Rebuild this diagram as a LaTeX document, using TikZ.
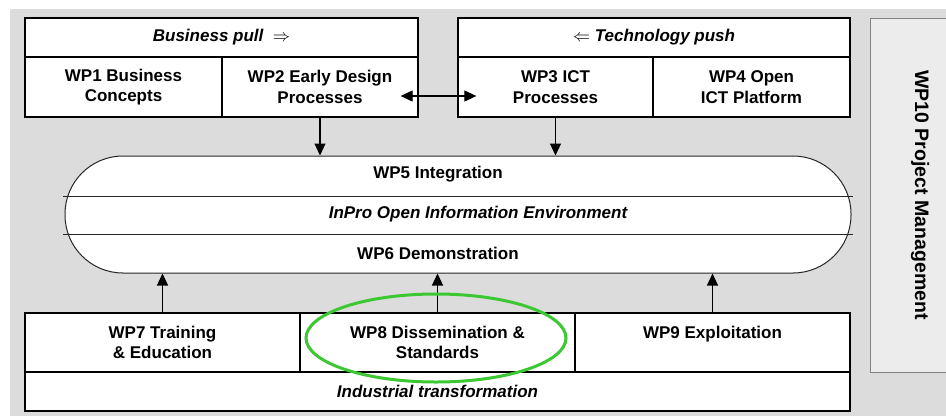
\documentclass[tikz,border=0pt]{standalone}
\usepackage{fontspec}
\setmainfont{Liberation Sans}
\usetikzlibrary{arrows.meta,shapes.geometric}
\definecolor{bggray}{RGB}{220,220,220}
\definecolor{pmgray}{RGB}{236,236,236}
\definecolor{pmedge}{RGB}{130,130,130}
\definecolor{hlgreen}{RGB}{60,200,50}
\tikzset{
  cell/.style={draw=black, line width=1.3pt, fill=white, inner sep=0pt, align=center,
    font=\fontsize{17}{20.5}\selectfont\bfseries},
  hdr/.style={cell, font=\fontsize{17}{20.5}\selectfont\bfseries\itshape},
  captext/.style={inner sep=0pt, font=\fontsize{17}{20.5}\selectfont\bfseries},
  tip/.tip={Triangle[length=12pt,width=11pt]},
  conn/.style={line width=1.1pt, -tip},
  divline/.style={line width=0.9pt, draw=black!85}
}
\begin{document}
\begin{tikzpicture}[x=1pt,y=-1pt]
\useasboundingbox (0,0) rectangle (946,416);
\fill[bggray] (10,9) rectangle (946,416);
\begin{scope}
\clip (0,0) rectangle (946,416);
\node[draw=pmedge, line width=1pt, fill=pmgray, minimum width=354pt, minimum height=100pt,
  rotate=-90, inner sep=0pt, font=\fontsize{19.5}{22}\selectfont\bfseries] (wp10) at (920,195) {WP10 Project Management};
\end{scope}
% top left
\node[hdr, minimum width=393pt, minimum height=39pt] (bp) at (221.5,37.5) {Business pull \ $\Rightarrow$};
\node[cell, minimum width=197pt, minimum height=60pt] (wp1) at (123.5,87) {WP1 Business\\Concepts};
\node[cell, minimum width=196pt, minimum height=60pt] (wp2) at (320,87) {WP2 Early Design\\Processes};
% top right
\node[hdr, minimum width=392pt, minimum height=39pt] (tp) at (654,37.5) {$\Leftarrow$ Technology push};
\node[cell, minimum width=195pt, minimum height=60pt] (wp3) at (555.5,87) {WP3 ICT\\Processes};
\node[cell, minimum width=197pt, minimum height=60pt] (wp4) at (751.5,87) {WP4 Open\\ICT Platform};
% capsule
\node[draw=black!85, line width=1pt, fill=white, rounded corners=58pt, minimum width=786pt,
  minimum height=117pt, inner sep=0pt] (cap) at (458,214.5) {};
\coordinate (d1l) at (63,196); \coordinate (d1r) at (853,196);
\coordinate (d2l) at (63,234); \coordinate (d2r) at (853,234);
\draw[divline] (d1l) -- (d1r);
\draw[divline] (d2l) -- (d2r);
\node[captext] (wp5) at (438,174) {WP5 Integration};
\node[captext, font=\fontsize{17}{20.5}\selectfont\bfseries\itshape] (inpro) at (478,214) {InPro Open Information Environment};
\node[captext] (wp6) at (438,253) {WP6 Demonstration};
% bottom
\node[cell, minimum width=275pt, minimum height=59pt] (wp7) at (162.5,342.5) {WP7 Training\\\& Education};
\node[cell, minimum width=275pt, minimum height=59pt] (wp8) at (437.5,342.5) {WP8 Dissemination \&\\Standards};
\node[cell, minimum width=275pt, minimum height=59pt] (wp9) at (712.5,342.5) {WP9 Exploitation\\\phantom{X}};
\node[hdr, minimum width=825pt, minimum height=39pt] (ind) at (437.5,391.5) {Industrial transformation};
% connectors
\draw[conn] (wp2.south) -- (wp2.south |- cap.north);
\draw[conn] (wp3.south) -- (wp3.south |- cap.north);
\draw[conn] (wp7.north) -- (wp7.north |- cap.south);
\draw[conn] (wp8.north) -- (wp8.north |- cap.south);
\draw[conn] (wp9.north) -- (wp9.north |- cap.south);
\draw[line width=1.1pt, tip-tip,
  shorten <=-18pt, shorten >=-19pt] ([yshift=-9pt]wp2.east) -- ([yshift=-9pt]wp3.west);
% highlight
\node[ellipse, draw=hlgreen, line width=3pt, minimum width=260pt, minimum height=88pt] (hl) at (436,338) {};
\end{tikzpicture}
\end{document}
